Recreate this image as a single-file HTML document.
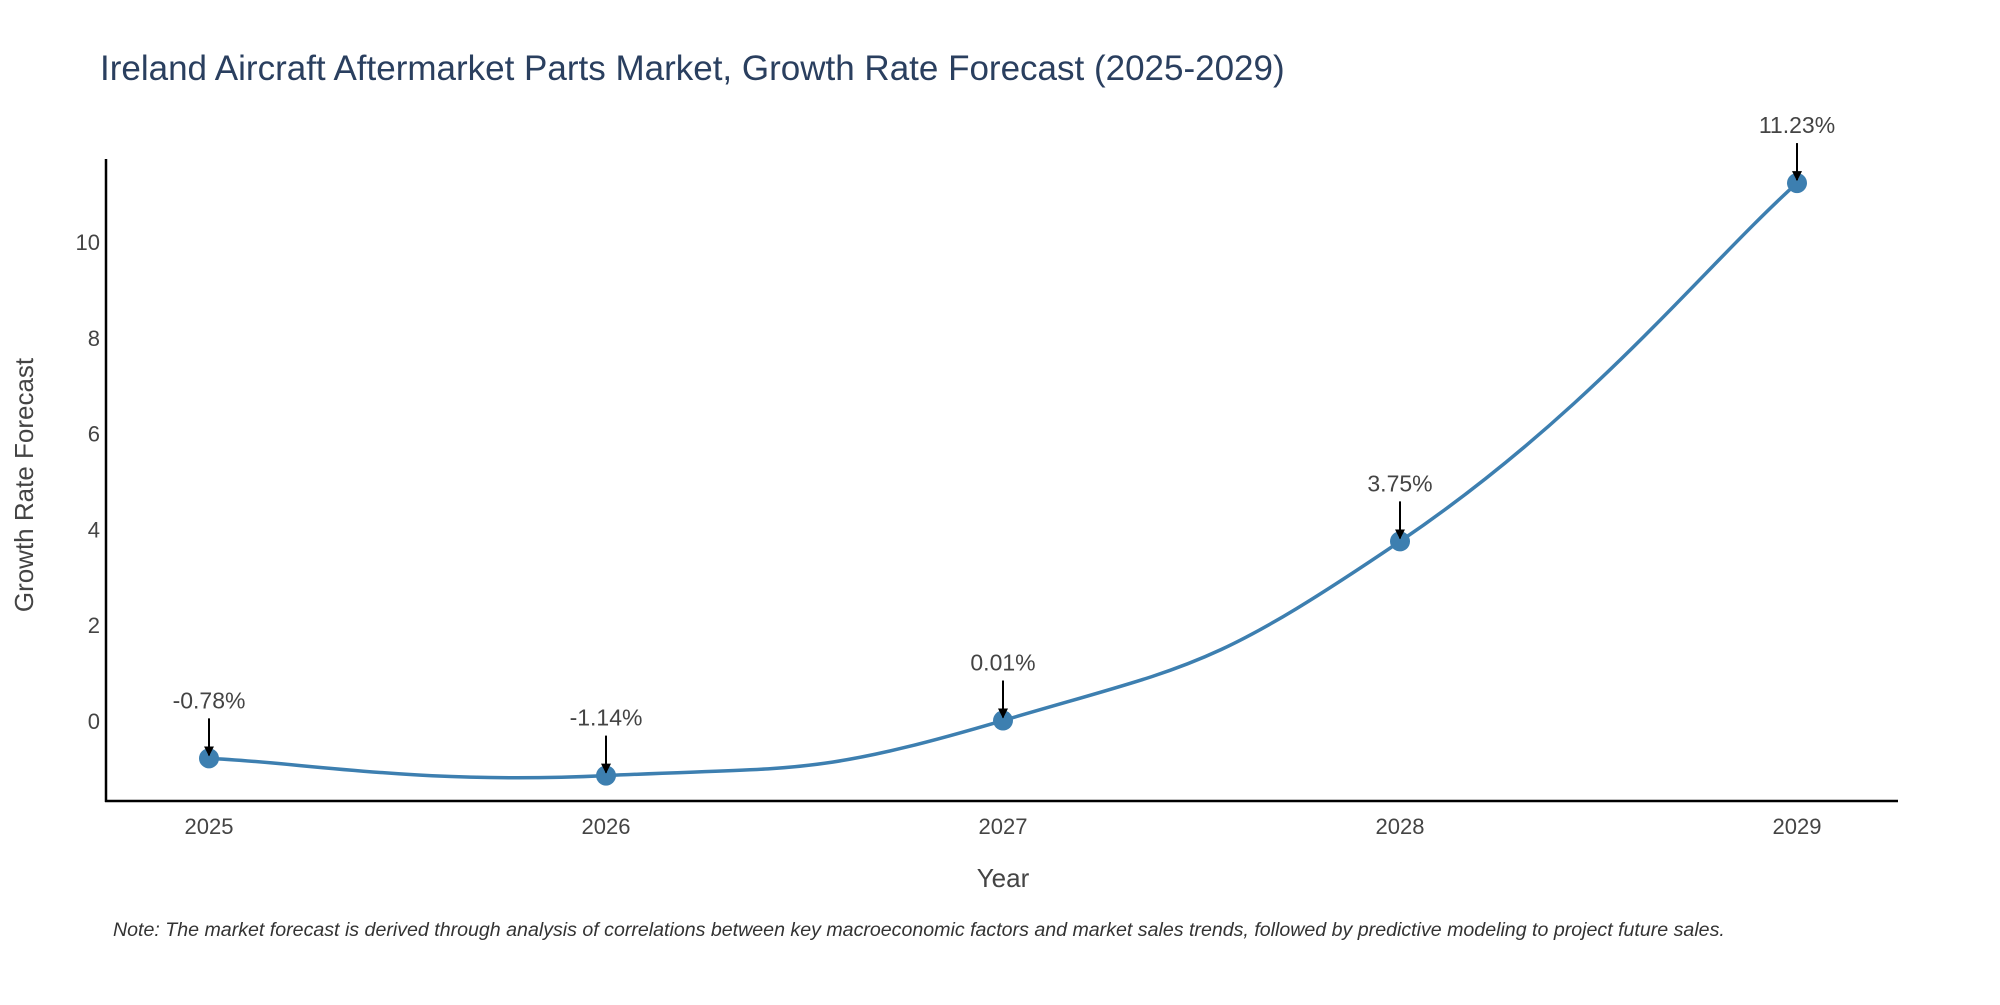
<!DOCTYPE html>
<html><head><meta charset="utf-8">
<style>
html,body{margin:0;padding:0;background:#fff;}
svg text{font-family:"Liberation Sans",sans-serif;}
</style></head>
<body>
<svg id="chart" width="2000" height="1000" viewBox="0 0 2000 1000" xmlns="http://www.w3.org/2000/svg">
<defs>
<marker id="ah" viewBox="0 0 10 10" refX="9" refY="5" markerWidth="5" markerHeight="5" orient="auto">
<path d="M0,0 L10,5 L0,10 z" fill="#000"/>
</marker>
</defs>
<text x="100" y="80" font-size="35" fill="#2a3f5f">Ireland Aircraft Aftermarket Parts Market, Growth Rate Forecast (2025-2029)</text>
<g id="yticks"></g>
<g id="xticks"></g>
<line x1="106" y1="159" x2="106" y2="802" stroke="#000" stroke-width="2.5"/>
<line x1="105" y1="801" x2="1898" y2="801" stroke="#000" stroke-width="2.5"/>
<path id="line" fill="none" stroke="#3d7fb0" stroke-width="3.5"/>
<g id="points"></g>
<g id="annots"></g>
<text transform="translate(33,485) rotate(-90)" text-anchor="middle" font-size="26" fill="#444">Growth Rate Forecast</text>
<text x="1003" y="887" text-anchor="middle" font-size="26" fill="#444">Year</text>
<text x="113" y="936" font-size="19.6" font-style="italic" fill="#333">Note: The market forecast is derived through analysis of correlations between key macroeconomic factors and market sales trends, followed by predictive modeling to project future sales.</text>
</svg>
<script>
const years = [2025, 2026, 2027, 2028, 2029];
const growth = [-0.78, -1.14, 0.01, 3.75, 11.23];
const labels = ["-0.78%", "-1.14%", "0.01%", "3.75%", "11.23%"];
const yTicks = [0, 2, 4, 6, 8, 10];

const NS = "http://www.w3.org/2000/svg";
function xs(v){ return 209 + (v - 2025) * (1797 - 209) / 4; }
function ys(v){ return 721 - v * 47.9; }
function mk(tag, attrs, parent){ const e = document.createElementNS(NS, tag); for (const k in attrs) e.setAttribute(k, attrs[k]); parent.appendChild(e); return e; }

const yg = document.getElementById('yticks');
yTicks.forEach(t => {
  const el = mk('text', {x: 100, y: ys(t) + 8, 'text-anchor': 'end', 'font-size': 22, fill: '#444'}, yg);
  
  
  el.textContent = t;
});
const xg = document.getElementById('xticks');
years.forEach(y => {
  const el = mk('text', {x: xs(y), y: 834, 'text-anchor': 'middle', 'font-size': 22, fill: '#444'}, xg);
  
  
  el.textContent = y;
});

const pts = years.map((y, i) => [xs(y), ys(growth[i])]);
let d = "M" + pts[0][0] + "," + pts[0][1];
const s = 0.24;
for (let i = 0; i < pts.length - 1; i++) {
  const p0 = pts[Math.max(i - 1, 0)], p1 = pts[i], p2 = pts[i + 1], p3 = pts[Math.min(i + 2, pts.length - 1)];
  const c1 = [p1[0] + (p2[0] - p0[0]) * s, p1[1] + (p2[1] - p0[1]) * s];
  const c2 = [p2[0] - (p3[0] - p1[0]) * s, p2[1] - (p3[1] - p1[1]) * s];
  d += " C" + c1 + " " + c2 + " " + p2;
}
document.getElementById('line').setAttribute('d', d);

const pg = document.getElementById('points');
const ag = document.getElementById('annots');
pts.forEach((p, i) => {
  const c = mk('circle', {cx: p[0], cy: p[1], r: 10, fill: '#3d7fb0'}, pg);
  
  
  const a = mk('line', {x1: p[0], y1: p[1] - 40, x2: p[0], y2: p[1] - 3, stroke: '#000', 'stroke-width': 2, 'marker-end': 'url(#ah)'}, ag);
  
  
  const t = mk('text', {x: p[0], y: p[1] - 50, 'text-anchor': 'middle', 'font-size': 23, fill: '#444'}, ag);
  
  
  t.textContent = labels[i];
});
</script>
</body></html>
